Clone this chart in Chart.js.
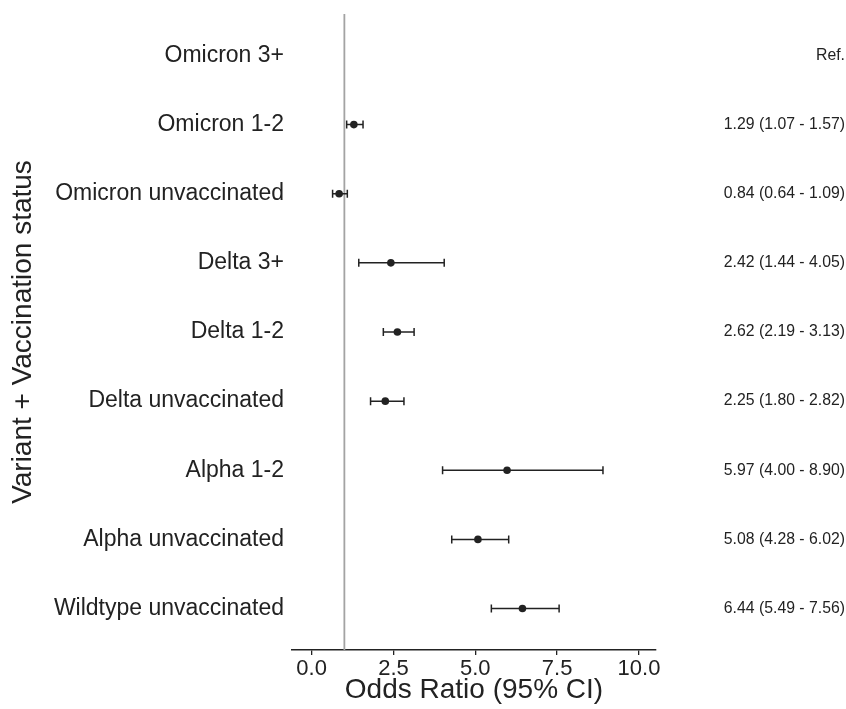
<!DOCTYPE html>
<html>
<head>
<meta charset="utf-8">
<script src="https://cdn.jsdelivr.net/npm/chart.js@4"></script>
<style>
  html, body { margin: 0; padding: 0; background: #fff; }
  #wrap { width: 846px; height: 709px; position: relative; }
</style>
</head>
<body>
<div id="wrap"><canvas id="chart"></canvas></div>
<script>
// forest plot: odds ratio by variant + vaccination status
const categories = [
  "Omicron 3+", "Omicron 1-2", "Omicron unvaccinated",
  "Delta 3+", "Delta 1-2", "Delta unvaccinated",
  "Alpha 1-2", "Alpha unvaccinated", "Wildtype unvaccinated",
];
const oddsRatio = [null, 1.29, 0.84, 2.42, 2.62, 2.25, 5.97, 5.08, 6.44];
const ciLow     = [null, 1.07, 0.64, 1.44, 2.19, 1.80, 4.00, 4.28, 5.49];
const ciHigh    = [null, 1.57, 1.09, 4.05, 3.13, 2.82, 8.90, 6.02, 7.56];
const ciText = [
  "Ref.", "1.29 (1.07 - 1.57)", "0.84 (0.64 - 1.09)",
  "2.42 (1.44 - 4.05)", "2.62 (2.19 - 3.13)", "2.25 (1.80 - 2.82)",
  "5.97 (4.00 - 8.90)", "5.08 (4.28 - 6.02)", "6.44 (5.49 - 7.56)",
];
const xTicks = [0, 2.5, 5, 7.5, 10];
const refValue = 1;

const FONT = "'Liberation Sans', Arial, Helvetica, sans-serif";
const INK = "#222";

const points = categories
  .map((c, i) => ({ x: oddsRatio[i], y: i }))
  .filter(p => p.x !== null);

const forestPlugin = {
  id: "forest",
  beforeDatasetsDraw(chart) {
    const { ctx, chartArea, scales: { x, y } } = chart;
    ctx.save();
    // reference line at OR = 1
    ctx.strokeStyle = "#a3a3a3";
    ctx.lineWidth = 1.8;
    const rx = x.getPixelForValue(refValue);
    ctx.beginPath();
    ctx.moveTo(rx, chartArea.top);
    ctx.lineTo(rx, chartArea.bottom);
    ctx.stroke();
    // confidence intervals with caps
    ctx.strokeStyle = INK;
    ctx.lineWidth = 1.5;
    categories.forEach((c, i) => {
      if (ciLow[i] === null) return;
      const yp = y.getPixelForValue(i);
      const x0 = x.getPixelForValue(ciLow[i]);
      const x1 = x.getPixelForValue(ciHigh[i]);
      ctx.beginPath();
      ctx.moveTo(x0, yp); ctx.lineTo(x1, yp);
      ctx.moveTo(x0, yp - 4); ctx.lineTo(x0, yp + 4);
      ctx.moveTo(x1, yp - 4); ctx.lineTo(x1, yp + 4);
      ctx.stroke();
    });
    ctx.restore();
  },
  afterDraw(chart) {
    const { ctx, scales: { y } } = chart;
    ctx.save();
    ctx.font = `15.8px ${FONT}`;
    ctx.fillStyle = INK;
    ctx.textAlign = "right";
    ctx.textBaseline = "middle";
    ciText.forEach((t, i) => ctx.fillText(t, chart.width - 1, y.getPixelForValue(i)));
    ctx.restore();
  },
};

new Chart(document.getElementById("chart"), {
  type: "scatter",
  data: {
    datasets: [{
      data: points,
      pointRadius: 3.8,
      pointHoverRadius: 3.8,
      backgroundColor: INK,
      borderColor: INK,
      borderWidth: 0,
    }],
  },
  options: {
    responsive: true,
    maintainAspectRatio: false,
    animation: false,
    events: [],
    layout: { padding: { top: 14, right: 190, bottom: 0, left: 0 } },
    plugins: { legend: { display: false }, tooltip: { enabled: false } },
    scales: {
      x: {
        type: "linear",
        min: -0.6,
        max: 10.52,
        afterBuildTicks: s => { s.ticks = xTicks.map(v => ({ value: v })); },
        afterFit: s => { s.height = 59; },
        grid: { drawOnChartArea: false, drawTicks: true, tickLength: 5, color: INK, lineWidth: 1.3 },
        border: { display: true, color: INK, width: 1.5 },
        ticks: {
          color: INK, padding: 1,
          font: { family: FONT, size: 22 },
          callback: v => Number(v).toFixed(1),
        },
        title: {
          display: true, text: "Odds Ratio (95% CI)", color: INK,
          font: { family: FONT, size: 28 },
          padding: { top: 0, bottom: 2 },
        },
      },
      y: {
        type: "linear",
        reverse: true,
        min: -0.6,
        max: 8.6,
        afterBuildTicks: s => { s.ticks = categories.map((c, i) => ({ value: i })); },
        afterFit: s => { s.width = 292; s.paddingTop = 0; s.paddingBottom = 0; },
        grid: { display: false, drawTicks: false },
        border: { display: false },
        ticks: {
          color: INK, padding: 8,
          font: { family: FONT, size: 23 },
          callback: v => categories[v] ?? "",
        },
        title: {
          display: true, text: "Variant + Vaccination status", color: INK,
          font: { family: FONT, size: 28 },
          padding: { top: 6, bottom: 0 },
        },
      },
    },
  },
  plugins: [forestPlugin],
});
</script>
</body>
</html>
